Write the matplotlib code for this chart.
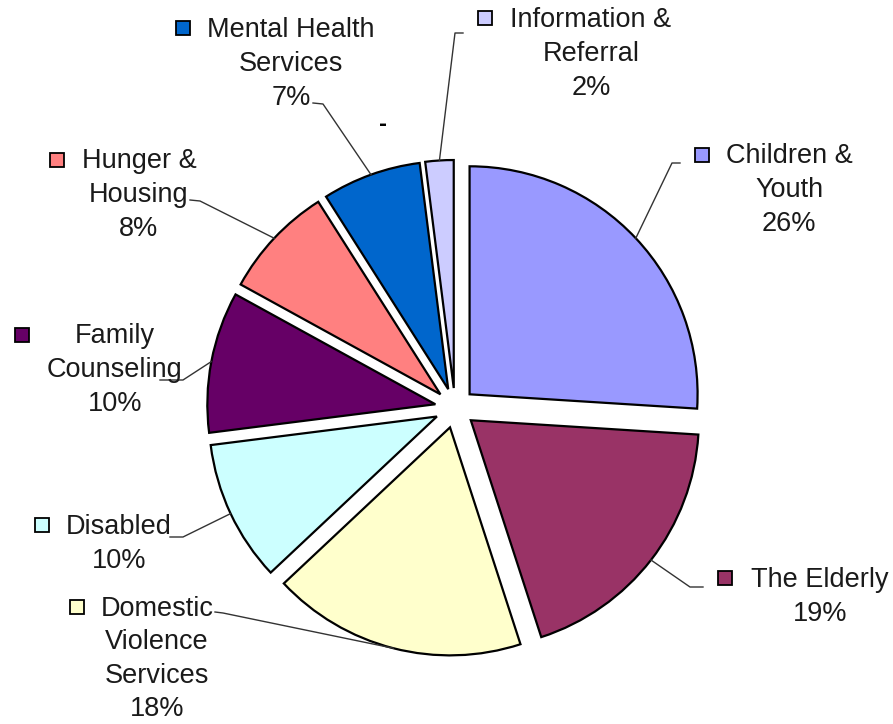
import matplotlib.pyplot as plt
import numpy as np

# slices, clockwise from 12 o'clock
categories = ['Children &\nYouth', 'The Elderly', 'Domestic\nViolence\nServices', 'Disabled',
              'Family\nCounseling', 'Hunger &\nHousing', 'Mental Health\nServices',
              'Information &\nReferral']
shares = [26, 19, 18, 10, 10, 8, 7, 2]
colors = ['#9999FF', '#993366', '#FFFFCC', '#CCFFFF', '#660066', '#FF8080', '#0066CC', '#CCCCFF']

W, H = 893, 724

# label layout, pixel coords from top-left
label_xy = [(789, 190), (820, 597), (157, 659), (119, 544), (115, 370), (139, 195), (291, 64), (591, 54)]
key_xy = [(702, 155), (725, 578), (77, 607), (42, 525), (22, 335), (57, 160), (183, 28), (485, 18)]
leader_start = [((680, 163), (672, 163)), ((703, 587), (690, 587)), ((215, 612), (223, 613)),
                ((170, 537), (183, 537)), ((160, 380), (183, 380)), ((190, 200), (200, 201)),
                ((313, 103), (323, 104)), ((463, 33), (455, 33))]


def py(y):
    return H - y


fig = plt.figure(figsize=(W / 100, H / 100), dpi=100)
ax = fig.add_axes([0, 0, 1, 1])

wedges, _ = ax.pie(shares, colors=colors, startangle=90, counterclock=False,
                   explode=[20] * len(shares), radius=228, center=(455, py(408)),
                   wedgeprops=dict(edgecolor='black', linewidth=1.6))

font = dict(family='Liberation Sans', size=19.5, color='#1a1a1a')

for w, cat, val, (tx, ty), (kx, ky), (p0, p1) in zip(wedges, categories, shares,
                                                       label_xy, key_xy, leader_start):
    ax.text(tx, py(ty), f'{cat}\n{val}%', ha='center', va='center',
            linespacing=1.38, **font)
    ax.plot(kx, py(ky), marker='s', markersize=10, markerfacecolor=w.get_facecolor(),
            markeredgecolor='black', markeredgewidth=1.3)
    # leader to the middle of the slice's outer arc
    tm = np.deg2rad((w.theta1 + w.theta2) / 2)
    ex = w.center[0] + w.r * np.cos(tm)
    ey = w.center[1] + w.r * np.sin(tm)
    ax.plot([p0[0], p1[0], ex], [py(p0[1]), py(p1[1]), ey], color='#333333', lw=1.0)

ax.text(383, py(125), '-', ha='center', va='center', fontsize=14, fontweight='bold')

ax.set_xlim(0, W)
ax.set_ylim(0, H)
ax.axis('off')

plt.savefig('out.png', dpi=100)
